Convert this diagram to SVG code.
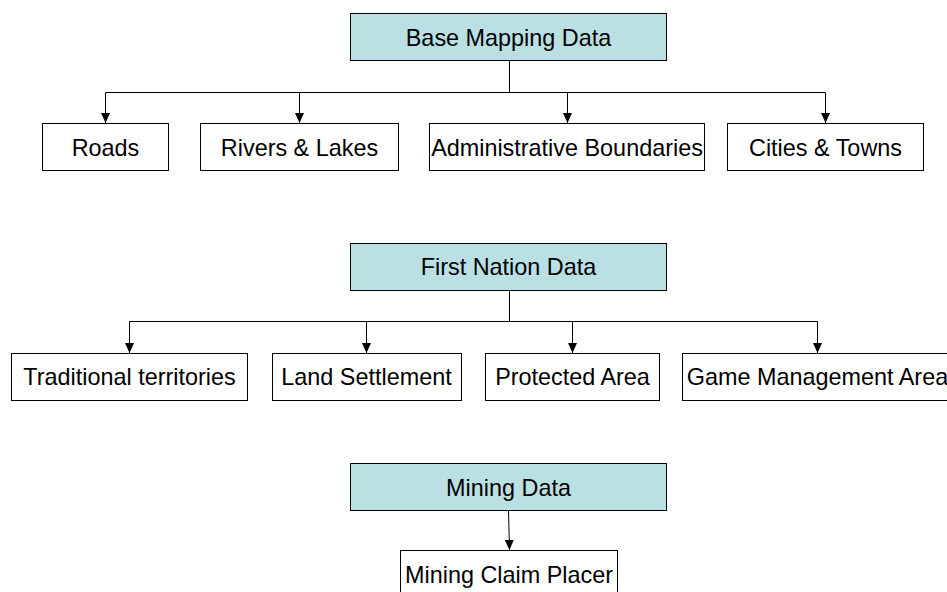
<svg xmlns="http://www.w3.org/2000/svg" width="947" height="592" viewBox="0 0 947 592">
<defs>
<marker id="arr" markerUnits="userSpaceOnUse" markerWidth="10" markerHeight="11" refX="10" refY="4.5" orient="auto">
<path d="M0,0 L10,4.5 L0,9 Z" fill="#000"/>
</marker>
<style>
.hdr{fill:#BBE0E3;stroke:#000;stroke-width:1}
.box{fill:#fff;stroke:#000;stroke-width:1}
.t{font-family:"Liberation Sans",Arial,sans-serif;font-size:23.4px;fill:#000;text-anchor:middle}
.c{fill:none;stroke:#000;stroke-width:1}
.a{fill:none;stroke:#000;stroke-width:1;marker-end:url(#arr)}
</style>
</defs>
<rect width="947" height="592" fill="#fff"/>
<g id="connectors">
<polyline class="c" points="509.5,60.5 509.5,92.5"/>
<polyline class="c" points="105.5,92.5 825.5,92.5"/>
<line class="a" x1="105.5" y1="92.5" x2="105.5" y2="123"/>
<line class="a" x1="299.5" y1="92.5" x2="299.5" y2="123"/>
<line class="a" x1="567.5" y1="92.5" x2="567.5" y2="123"/>
<line class="a" x1="825.5" y1="92.5" x2="825.5" y2="123"/>
<polyline class="c" points="509.5,290 509.5,321.5"/>
<polyline class="c" points="129.5,321.5 817.5,321.5"/>
<line class="a" x1="129.5" y1="321.5" x2="129.5" y2="353"/>
<line class="a" x1="366.5" y1="321.5" x2="366.5" y2="353"/>
<line class="a" x1="572.5" y1="321.5" x2="572.5" y2="353"/>
<line class="a" x1="817.5" y1="321.5" x2="817.5" y2="353"/>
<line class="a" x1="508.5" y1="511" x2="509.5" y2="550"/>
</g>
<g id="base-mapping-data"><rect class="hdr" x="350.5" y="13.5" width="316" height="47"/><text class="t" x="508.5" y="45.5">Base Mapping Data</text></g>
<g id="roads"><rect class="box" x="42.5" y="123.5" width="126" height="47"/><text class="t" x="105.5" y="155.5">Roads</text></g>
<g id="rivers-lakes"><rect class="box" x="200.5" y="123.5" width="198" height="47"/><text class="t" x="299.5" y="155.5">Rivers &amp; Lakes</text></g>
<g id="admin-boundaries"><rect class="box" x="429.5" y="123.5" width="275" height="47"/><text class="t" x="567" y="155.5">Administrative Boundaries</text></g>
<g id="cities-towns"><rect class="box" x="727.5" y="123.5" width="196" height="47"/><text class="t" x="825.5" y="155.5">Cities &amp; Towns</text></g>
<g id="first-nation-data"><rect class="hdr" x="350.5" y="243.5" width="316" height="47"/><text class="t" x="508.5" y="275">First Nation Data</text></g>
<g id="traditional-territories"><rect class="box" x="11.5" y="353.5" width="236" height="47"/><text class="t" x="129.5" y="385">Traditional territories</text></g>
<g id="land-settlement"><rect class="box" x="272.5" y="353.5" width="189" height="47"/><text class="t" x="366.5" y="385">Land Settlement</text></g>
<g id="protected-area"><rect class="box" x="485.5" y="353.5" width="174" height="47"/><text class="t" x="572.5" y="385">Protected Area</text></g>
<g id="game-management-area"><rect class="box" x="682.5" y="353.5" width="270" height="47"/><text class="t" x="817.5" y="385">Game Management Area</text></g>
<g id="mining-data"><rect class="hdr" x="350.5" y="463.5" width="316" height="47"/><text class="t" x="508.5" y="495.5">Mining Data</text></g>
<g id="mining-claim-placer"><rect class="box" x="400.5" y="550.5" width="217" height="47"/><text class="t" x="509" y="582.5">Mining Claim Placer</text></g>
</svg>
